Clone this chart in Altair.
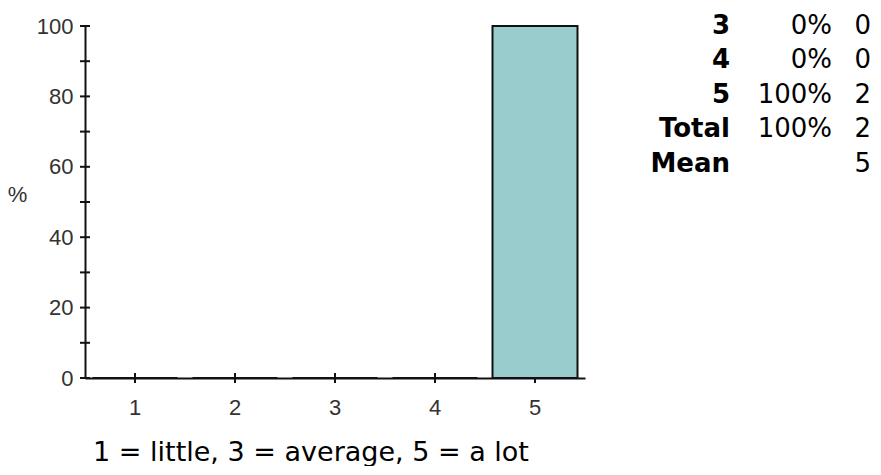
import altair as alt
import pandas as pd

# ---- data ----
categories = ["1", "2", "3", "4", "5"]
percents = [0, 0, 0, 0, 100]
y_tick_values = [0, 10, 20, 30, 40, 50, 60, 70, 80, 90, 100]
y_label_values = [0, 20, 40, 60, 80, 100]

table_labels = ["3", "4", "5", "Total", "Mean"]
table_pcts = ["0%", "0%", "100%", "100%", ""]
table_counts = ["0", "0", "2", "2", "5"]
caption = ["1 = little, 3 = average, 5 = a lot"]

# ---- styling ----
W, H = 500, 352
FONT = "Liberation Sans"
TFONT = "DejaVu Sans"
INK = "#111111"
BAR = "#99CCCC"

bars_df = pd.DataFrame({"cat": categories, "pct": percents})
yt_df = pd.DataFrame({"v": y_tick_values})
table_df = pd.DataFrame({
    "i": list(range(len(table_labels))),
    "label": table_labels,
    "pct": table_pcts,
    "count": table_counts,
})
cap_df = pd.DataFrame({"t": caption})

x_axis = alt.Axis(
    title=None, ticks=False, grid=False, labelAngle=0,
    domainColor=INK, domainWidth=2,
    labelPadding=19, labelFont=FONT, labelFontSize=22, labelColor="#333333",
)
y_axis = alt.Axis(
    values=y_label_values, ticks=False, grid=False,
    domainColor=INK, domainWidth=2,
    labelPadding=12, labelFont=FONT, labelFontSize=22, labelColor="#333333",
    title="%", titleAngle=0, titleX=-68, titleY=168,
    titleAlign="center", titleBaseline="middle",
    titleFont=FONT, titleFontSize=22, titleFontWeight="normal", titleColor="#333333",
)
x_scale = alt.Scale(paddingInner=0.15, paddingOuter=0.075)
y_scale = alt.Scale(domain=[0, 100], nice=False)

x_ticks = alt.Chart(bars_df).mark_rule(color=INK, strokeWidth=2).encode(
    x=alt.X("cat:O", sort=categories, scale=x_scale, axis=x_axis),
    y=alt.value(H - 5),
    y2=alt.value(H + 5),
)
y_ticks = alt.Chart(yt_df).mark_rule(color=INK, strokeWidth=2).encode(
    y=alt.Y("v:Q", scale=y_scale, axis=y_axis),
    x=alt.value(-5),
    x2=alt.value(5),
)
bars = alt.Chart(bars_df).mark_bar(color=BAR, stroke=INK, strokeWidth=2).encode(
    x=alt.X("cat:O", sort=categories, scale=x_scale, axis=x_axis),
    y=alt.Y("pct:Q", scale=y_scale, axis=y_axis),
)

def table_col(field, xpos, weight):
    return (
        alt.Chart(table_df)
        .transform_calculate(ty="datum.i * 34.5 - 0.5")
        .mark_text(align="right", baseline="middle", font=TFONT, fontSize=26,
                   fontWeight=weight, color="black")
        .encode(
            x=alt.value(xpos),
            y=alt.Y("ty:Q", scale=None, axis=None),
            text=alt.Text(f"{field}:N"),
        )
    )

tab_labels = table_col("label", 645, "bold")
tab_pcts = table_col("pct", 747, "normal")
tab_counts = table_col("count", 786, "normal")

cap = alt.Chart(cap_df).mark_text(
    align="center", baseline="alphabetic", font=TFONT, fontSize=27, color="black"
).encode(
    x=alt.value(226),
    y=alt.value(435),
    text="t:N",
)

chart = alt.layer(
    x_ticks, y_ticks, bars, tab_labels, tab_pcts, tab_counts, cap
).properties(
    width=W,
    height=H,
    autosize=alt.AutoSizeParams(type="none"),
    padding={"left": 77, "top": 18, "right": 288, "bottom": 88},
).configure_view(stroke=None)

chart.save("out.html", embed_options={"renderer": "svg", "actions": False})
